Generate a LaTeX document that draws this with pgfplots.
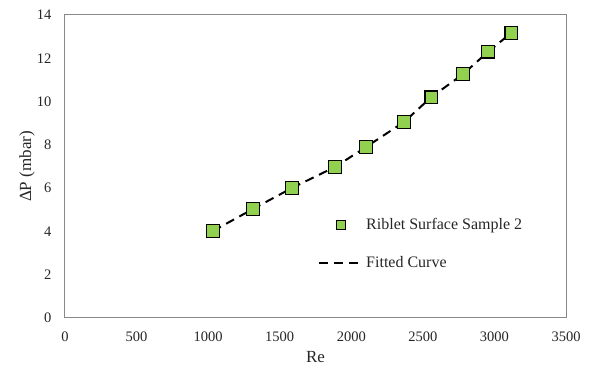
\documentclass[border=0pt]{standalone}
\usepackage{fontspec}
\setmainfont{Liberation Serif}
\usepackage{pgfplots}
\pgfplotsset{compat=1.18}
\definecolor{mkgreen}{RGB}{146,208,80}
\definecolor{axgray}{RGB}{137,137,137}
\pgfplotsset{
  legmark/.code={\pgfplotsset{legend image code/.code={\draw[##1, mark size=4.5pt] plot coordinates {(22pt,0pt)};}}},
  legline/.code={\pgfplotsset{legend image code/.code={\draw[##1] (0pt,0pt) -- (44pt,0pt);}}},
}
\begin{document}
\begin{tikzpicture}
\useasboundingbox (-65pt,-51pt) rectangle (524pt,318pt);
\begin{axis}[
  scale only axis, width=501pt, height=303pt,
  xmin=0, xmax=3500, ymin=0, ymax=14,
  xtick={0,500,...,3500}, ytick={0,2,...,14},
  major tick length=0pt,
  axis line style={axgray, line width=1pt},
  tick label style={font=\fontsize{14.5}{16}\selectfont, text=black!85},
  /pgf/number format/assume math mode=true,
  /pgf/number format/1000 sep={},
  xticklabel style={yshift=-10pt},
  yticklabel style={xshift=-10pt},
  xlabel={Re},
  ylabel={ΔP (mbar)},
  label style={font=\fontsize{17}{19}\selectfont, text=black!85},
  xlabel style={at={(axis description cs:0.5,-0.129)}, anchor=center},
  ylabel style={at={(axis description cs:-0.076,0.5)}, anchor=center},
  legend style={draw=none, fill=none, inner sep=0pt,
    at={(axis description cs:0.505,0.335)}, anchor=north west,
    row sep=21pt, font=\fontsize{16}{18}\selectfont, text=black!85},
  legend cell align=left,
]
\addplot[only marks, mark=square*, mark size=6.3pt,
  mark options={fill=mkgreen, draw=black, line width=1.3pt}, legmark]
coordinates {
(1034,4.02) (1314,5.04) (1586,6.01) (1887,6.98) (2103,7.90)
(2369,9.06) (2558,10.20) (2781,11.27) (2956,12.30) (3117,13.17)
};
\addlegendentry{Riblet Surface Sample 2}
\addplot[black, line width=2pt, dash pattern=on 9pt off 6pt, no marks, legline]
coordinates {
(1034,4.02) (1314,5.04) (1586,6.01) (1887,6.98) (2103,7.90)
(2369,9.06) (2558,10.20) (2781,11.27) (2956,12.30) (3117,13.17)
};
\addlegendentry{Fitted Curve}
\end{axis}
\end{tikzpicture}
\end{document}
